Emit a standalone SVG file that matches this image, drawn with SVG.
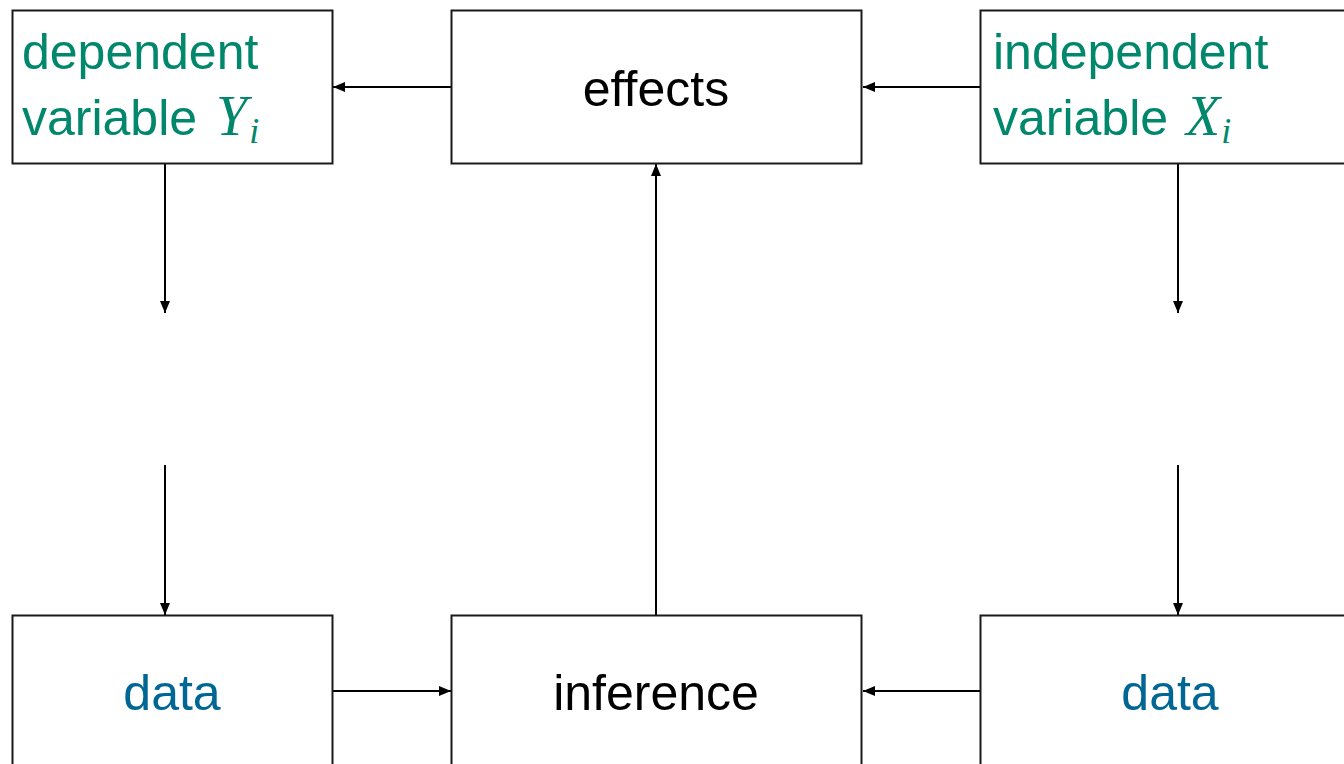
<svg xmlns="http://www.w3.org/2000/svg" width="1344" height="764" viewBox="0 0 1344 764">
<style>
.box{fill:#fff;stroke:#1a1a1a;stroke-width:2}
.t{font-family:"Liberation Sans",Arial,sans-serif;font-size:50px}
.g{fill:#00876c}
.b{fill:#006795}
.k{fill:#000}
.m{font-family:"Liberation Serif","Times New Roman",serif;font-style:italic}
.c{stroke:#000;stroke-width:2;fill:none;marker-end:url(#ah)}
</style>
<defs>
<marker id="ah" viewBox="0 0 12 10" refX="12" refY="5" markerWidth="12" markerHeight="10" markerUnits="userSpaceOnUse" orient="auto">
<path d="M0,0 L12,5 L0,10 Z" fill="#000"/>
</marker>
</defs>
<rect width="1344" height="764" fill="#fff"/>
<g id="connectors">
<line class="c" x1="451" y1="87" x2="333" y2="87"/>
<line class="c" x1="980" y1="87" x2="863" y2="87"/>
<line class="c" x1="165" y1="164" x2="165" y2="313"/>
<line class="c" x1="165" y1="465" x2="165" y2="615"/>
<line class="c" x1="1178" y1="164" x2="1178" y2="313"/>
<line class="c" x1="1178" y1="465" x2="1178" y2="615"/>
<line class="c" x1="656" y1="615" x2="656" y2="164"/>
<line class="c" x1="333" y1="691" x2="451" y2="691"/>
<line class="c" x1="980" y1="691" x2="863" y2="691"/>
</g>
<g id="dependent">
<rect class="box" x="12.5" y="10.5" width="320" height="153"/>
<text class="t g" x="22" y="69">dependent</text>
<text class="t g" x="22" y="135">variable<tspan class="m" font-size="56" x="216">Y</tspan><tspan class="m" font-size="36" dx="2" dy="8">i</tspan></text>
</g>
<g id="effects">
<rect class="box" x="451.5" y="10.5" width="410" height="153"/>
<text class="t k" x="656" y="106" text-anchor="middle">effects</text>
</g>
<g id="independent">
<rect class="box" x="980.5" y="10.5" width="380" height="153"/>
<text class="t g" x="993" y="69">independent</text>
<text class="t g" x="993" y="135">variable<tspan class="m" font-size="56" x="1186">X</tspan><tspan class="m" font-size="36" dx="1" dy="8">i</tspan></text>
</g>
<g id="data-left">
<rect class="box" x="12.5" y="615.5" width="320" height="160"/>
<text class="t b" x="172" y="710" text-anchor="middle">data</text>
</g>
<g id="inference">
<rect class="box" x="451.5" y="615.5" width="410" height="160"/>
<text class="t k" x="656" y="710" text-anchor="middle">inference</text>
</g>
<g id="data-right">
<rect class="box" x="980.5" y="615.5" width="380" height="160"/>
<text class="t b" x="1170" y="710" text-anchor="middle">data</text>
</g>
</svg>
